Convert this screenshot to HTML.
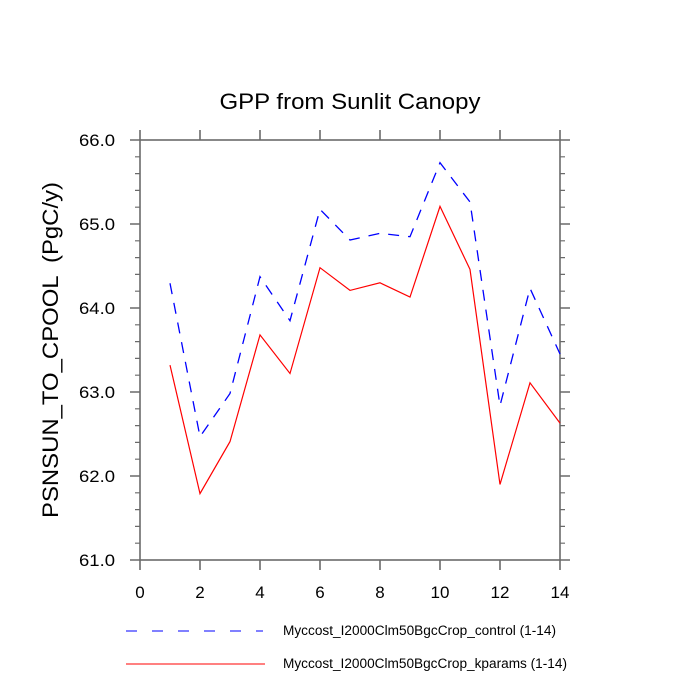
<!DOCTYPE html>
<html><head><meta charset="utf-8"><style>
html,body{margin:0;padding:0;background:#fff;}
svg{display:block;}
text{font-family:"Liberation Sans",Arial,sans-serif;fill:#000;}
</style></head><body>
<svg width="700" height="700" viewBox="0 0 700 700" xmlns="http://www.w3.org/2000/svg">
<rect width="700" height="700" fill="#fff"/>
<text x="350" y="109" font-size="22" text-anchor="middle" textLength="261" lengthAdjust="spacingAndGlyphs">GPP from Sunlit Canopy</text>
<text transform="translate(58,350) rotate(-90)" font-size="22" text-anchor="middle" textLength="336" lengthAdjust="spacingAndGlyphs" xml:space="preserve">PSNSUN_TO_CPOOL  (PgC/y)</text>
<g stroke="#6a6a6a" stroke-width="1.6" fill="none">
<rect x="140" y="140" width="420" height="420"/>
<path d="M140 560v10M200 560v10M260 560v10M320 560v10M380 560v10M440 560v10M500 560v10M560 560v10
M140 140v-10M200 140v-10M260 140v-10M320 140v-10M380 140v-10M440 140v-10M500 140v-10M560 140v-10
M140 140h-10M140 224h-10M140 308h-10M140 392h-10M140 476h-10M140 560h-10
M560 140h10M560 224h10M560 308h10M560 392h10M560 476h10M560 560h10"/>
<path stroke-width="1.2" d="M140 156.8h-5M140 173.6h-5M140 190.4h-5M140 207.2h-5M140 240.8h-5M140 257.6h-5M140 274.4h-5M140 291.2h-5M140 324.8h-5M140 341.6h-5M140 358.4h-5M140 375.2h-5M140 408.8h-5M140 425.6h-5M140 442.4h-5M140 459.2h-5M140 492.8h-5M140 509.6h-5M140 526.4h-5M140 543.2h-5
M560 156.8h5M560 173.6h5M560 190.4h5M560 207.2h5M560 240.8h5M560 257.6h5M560 274.4h5M560 291.2h5M560 324.8h5M560 341.6h5M560 358.4h5M560 375.2h5M560 408.8h5M560 425.6h5M560 442.4h5M560 459.2h5M560 492.8h5M560 509.6h5M560 526.4h5M560 543.2h5"/>
</g>
<g font-size="17" text-anchor="end">
<text x="115" y="146" textLength="36" lengthAdjust="spacingAndGlyphs">66.0</text>
<text x="115" y="230" textLength="36" lengthAdjust="spacingAndGlyphs">65.0</text>
<text x="115" y="314" textLength="36" lengthAdjust="spacingAndGlyphs">64.0</text>
<text x="115" y="398" textLength="36" lengthAdjust="spacingAndGlyphs">63.0</text>
<text x="115" y="482" textLength="36" lengthAdjust="spacingAndGlyphs">62.0</text>
<text x="115" y="566" textLength="36" lengthAdjust="spacingAndGlyphs">61.0</text>
</g>
<g font-size="17" text-anchor="middle">
<text x="140" y="598">0</text>
<text x="200" y="598">2</text>
<text x="260" y="598">4</text>
<text x="320" y="598">6</text>
<text x="380" y="598">8</text>
<text x="440" y="598">10</text>
<text x="500" y="598">12</text>
<text x="560" y="598">14</text>
</g>
<polyline fill="none" stroke="#0000ff" stroke-width="1.3" stroke-dasharray="11 9" points="170,283.3 200,436.7 230,393.5 260,276.7 290,320.7 320,209.3 350,240 380,233.3 410,236.7 440,162.7 470,202 500,405.7 530,288.3 560,354"/>
<polyline fill="none" stroke="#ff0000" stroke-width="1.2" points="170,365.1 200,493.6 230,441.6 260,334.9 290,373.5 320,267.7 350,290.4 380,282.8 410,297.1 440,206.4 470,269.4 500,484.4 530,382.8 560,423.1"/>
<line x1="126" y1="631" x2="263" y2="631" stroke="#0000ff" stroke-width="1" stroke-dasharray="11 15"/>
<line x1="126" y1="664" x2="265" y2="664" stroke="#ff0000" stroke-width="1"/>
<text x="283" y="635" font-size="13.5" textLength="273" lengthAdjust="spacingAndGlyphs">Myccost_I2000Clm50BgcCrop_control (1-14)</text>
<text x="283" y="668" font-size="13.5" textLength="284" lengthAdjust="spacingAndGlyphs">Myccost_I2000Clm50BgcCrop_kparams (1-14)</text>
</svg>
</body></html>
